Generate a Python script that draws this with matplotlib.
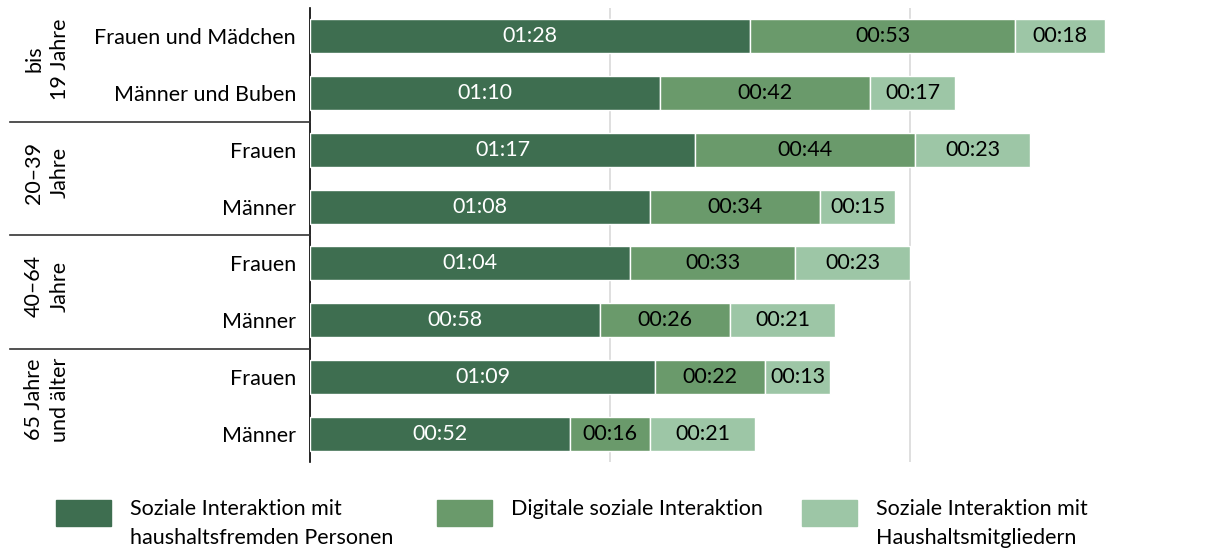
import matplotlib
matplotlib.use("Agg")
import matplotlib.pyplot as plt
from matplotlib.patches import Rectangle
from matplotlib.lines import Line2D
import matplotlib.transforms as mtransforms

plt.rcParams['font.family'] = ['Lato', 'DejaVu Sans']

rows = ["Frauen und Mädchen", "Männer und Buben", "Frauen", "Männer",
        "Frauen", "Männer", "Frauen", "Männer"]
groups = ["bis\n19 Jahre", "20–39\nJahre", "40–64\nJahre", "65 Jahre\nund älter"]
series_names = ["Soziale Interaktion mit\nhaushaltsfremden Personen",
                "Digitale soziale Interaktion",
                "Soziale Interaktion mit\nHaushaltsmitgliedern"]
extern = [88, 70, 77, 68, 64, 58, 69, 52]
digital = [53, 42, 44, 34, 33, 26, 22, 16]
haushalt = [18, 17, 23, 15, 23, 21, 13, 21]
colors = ["#3e6e50", "#6a9a6b", "#9dc6a6"]
text_colors = ["white", "black", "black"]

W, H = 1208, 555
fig = plt.figure(figsize=(W / 100, H / 100), dpi=100)
ax = fig.add_axes([310 / W, (H - 462) / H, 900 / W, 454 / H])

FS = 15.5
y = list(range(len(rows)))
left = [0] * len(rows)
for vals, col, tc in zip([extern, digital, haushalt], colors, text_colors):
    ax.barh(y, vals, left=left, height=0.6, color=col, edgecolor="white",
            linewidth=1, zorder=3)
    for i, v in enumerate(vals):
        ax.text(left[i] + v / 2, i, f"{v // 60:02d}:{v % 60:02d}", ha="center",
                va="center", color=tc, fontsize=FS, zorder=4)
    left = [l + v for l, v in zip(left, vals)]

ax.set_xlim(0, 180)
ax.set_ylim(len(rows) - 0.5, -0.5)
ax.set_xticks([60, 120])
ax.xaxis.grid(True, color="#d9d9d9", linewidth=1.2, zorder=0)
ax.tick_params(axis="x", length=0, labelbottom=False)
ax.set_yticks(y)
ax.set_yticklabels(rows, fontsize=FS)
ax.tick_params(axis="y", length=0, pad=10)
for s in ["top", "right", "bottom"]:
    ax.spines[s].set_visible(False)
ax.spines["left"].set_color("black")
ax.spines["left"].set_linewidth(1.2)

trans = mtransforms.blended_transform_factory(fig.transFigure, ax.transData)
for b in [1.5, 3.5, 5.5]:
    fig.add_artist(Line2D([10 / W, 310 / W], [b, b], transform=trans,
                          color="#333333", linewidth=1.2))
for g, name in enumerate(groups):
    fig.text(47 / W, 2 * g + 0.4, name, transform=trans, rotation=90,
             ha="center", va="center", multialignment="center", fontsize=FS,
             linespacing=1.35)

# legend
leg_x = [56, 437, 802]
for (px, name, col) in zip(leg_x, series_names, colors):
    fig.add_artist(Rectangle((px / W, (H - 526) / H), 55 / W, 26 / H,
                             transform=fig.transFigure, color=col))
    fig.text((px + 74) / W, (H - 499) / H, name, ha="left", va="top",
             fontsize=FS, linespacing=1.55)

fig.savefig("out.png", dpi=100)
